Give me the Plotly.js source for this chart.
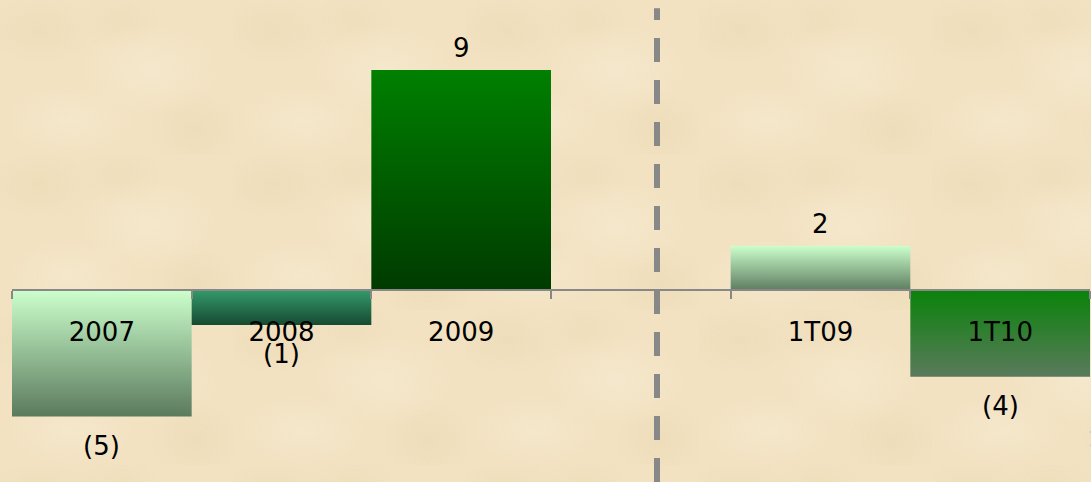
<!DOCTYPE html>
<html><head><meta charset="utf-8">
<script src="https://cdn.plot.ly/plotly-3.0.1.min.js"></script>
<style>
html,body{margin:0;padding:0;width:1091px;height:482px;overflow:hidden;}
body{
  background-color:#f2e2c2;
  background-image:
    radial-gradient(ellipse 60px 35px at 40px 30px, rgba(232,212,170,0.35), rgba(232,212,170,0) 100%),
    radial-gradient(ellipse 70px 45px at 150px 70px, rgba(248,237,213,0.5), rgba(248,237,213,0) 100%),
    radial-gradient(ellipse 50px 40px at 195px 130px, rgba(230,209,166,0.3), rgba(230,209,166,0) 100%),
    radial-gradient(ellipse 65px 35px at 70px 120px, rgba(248,237,213,0.45), rgba(248,237,213,0) 100%),
    radial-gradient(ellipse 45px 30px at 120px 20px, rgba(234,214,174,0.3), rgba(234,214,174,0) 100%);
  background-size: 233px 155px;
}
#chart{width:1091px;height:482px;}
</style></head><body><div id="chart"></div>
<script>
// ---- data ----
const categories = ['2007', '2008', '2009', ' ', '1T09', '1T10'];
const values = [-5.18, -1.43, 9.0, null, 1.81, -3.55];
const dividerPosition = 3.09; // category coordinate of the dashed separator

// ---- styles ----
const gradTop = ['#ccffcc', '#349a6b', '#008000', null, '#ccffcc', '#0a830a'];
const gradBottom = ['#5b7a5d', '#164a31', '#003a00', null, '#5e7e61', '#5a7a5c'];
const FONT = 'DejaVu Sans, Verdana, sans-serif';
const AXIS_GREY = '#888888';
const yRange = [-7.855, 11.865];

const xs = [], ys = [], idx = [];
values.forEach((v, i) => { if (v !== null) { xs.push(categories[i]); ys.push(v); idx.push(i); } });

const fmt = v => v < 0 ? '(' + Math.round(-v) + ')' : String(Math.round(v));

const annotations = ys.map((v, k) => ({
  x: idx[k], y: v, xref: 'x', yref: 'y',
  text: fmt(v), showarrow: false,
  yanchor: v >= 0 ? 'bottom' : 'top',
  yshift: v >= 0 ? 5 : -12,
  font: {family: FONT, size: 26, color: '#000'}
}));
annotations.push({
  x: 1, y: 0.09, xref: 'paper', yref: 'paper', xanchor: 'left', yanchor: 'middle',
  xshift: -5, text: '1', showarrow: false,
  font: {family: 'DejaVu Serif, serif', size: 22, color: '#b3bac6'}
});

const trace = {
  type: 'bar', x: xs, y: ys, width: 1,
  marker: {color: ys.map((v, k) => gradTop[idx[k]]), line: {width: 0}},
  hoverinfo: 'x+y'
};

const layout = {
  width: 1091, height: 482,
  margin: {l: 12, r: 1, t: 0, b: 0},
  paper_bgcolor: 'rgba(0,0,0,0)', plot_bgcolor: 'rgba(0,0,0,0)',
  showlegend: false,
  xaxis: {
    type: 'category', categoryorder: 'array', categoryarray: categories,
    range: [-0.5, categories.length - 0.5], fixedrange: true,
    anchor: 'free', position: -yRange[0] / (yRange[1] - yRange[0]),
    showline: true, linecolor: AXIS_GREY, linewidth: 2,
    ticks: 'outside', tickson: 'boundaries', ticklen: 8, tickwidth: 2, tickcolor: AXIS_GREY,
    ticklabelstandoff: 19,
    tickfont: {family: FONT, size: 26, color: '#000'},
    showgrid: false, zeroline: false
  },
  yaxis: {
    range: yRange, visible: false, showgrid: false, zeroline: false, fixedrange: true
  },
  shapes: [{
    type: 'line', xref: 'x', yref: 'paper',
    x0: dividerPosition, x1: dividerPosition, y0: 0, y1: 0.983,
    line: {color: AXIS_GREY, width: 6, dash: '24px,18px'}, layer: 'above'
  }],
  annotations: annotations
};

Plotly.newPlot('chart', [trace], layout, {displayModeBar: false, staticPlot: true}).then(gd => {
  const svg = gd.querySelector('svg.main-svg');
  const defs = svg.querySelector('defs');
  const NS = 'http://www.w3.org/2000/svg';
  const paths = gd.querySelectorAll('.barlayer .trace .point path');
  paths.forEach((p, k) => {
    const i = idx[k];
    const g = document.createElementNS(NS, 'linearGradient');
    g.setAttribute('id', 'bargrad' + i);
    g.setAttribute('x1', '0'); g.setAttribute('y1', '0');
    g.setAttribute('x2', '0'); g.setAttribute('y2', '1');
    [[0, gradTop[i]], [1, gradBottom[i]]].forEach(([o, c]) => {
      const s = document.createElementNS(NS, 'stop');
      s.setAttribute('offset', o); s.setAttribute('stop-color', c);
      g.appendChild(s);
    });
    defs.appendChild(g);
    p.style.fill = 'url(#bargrad' + i + ')';
  });
});
</script></body></html>
